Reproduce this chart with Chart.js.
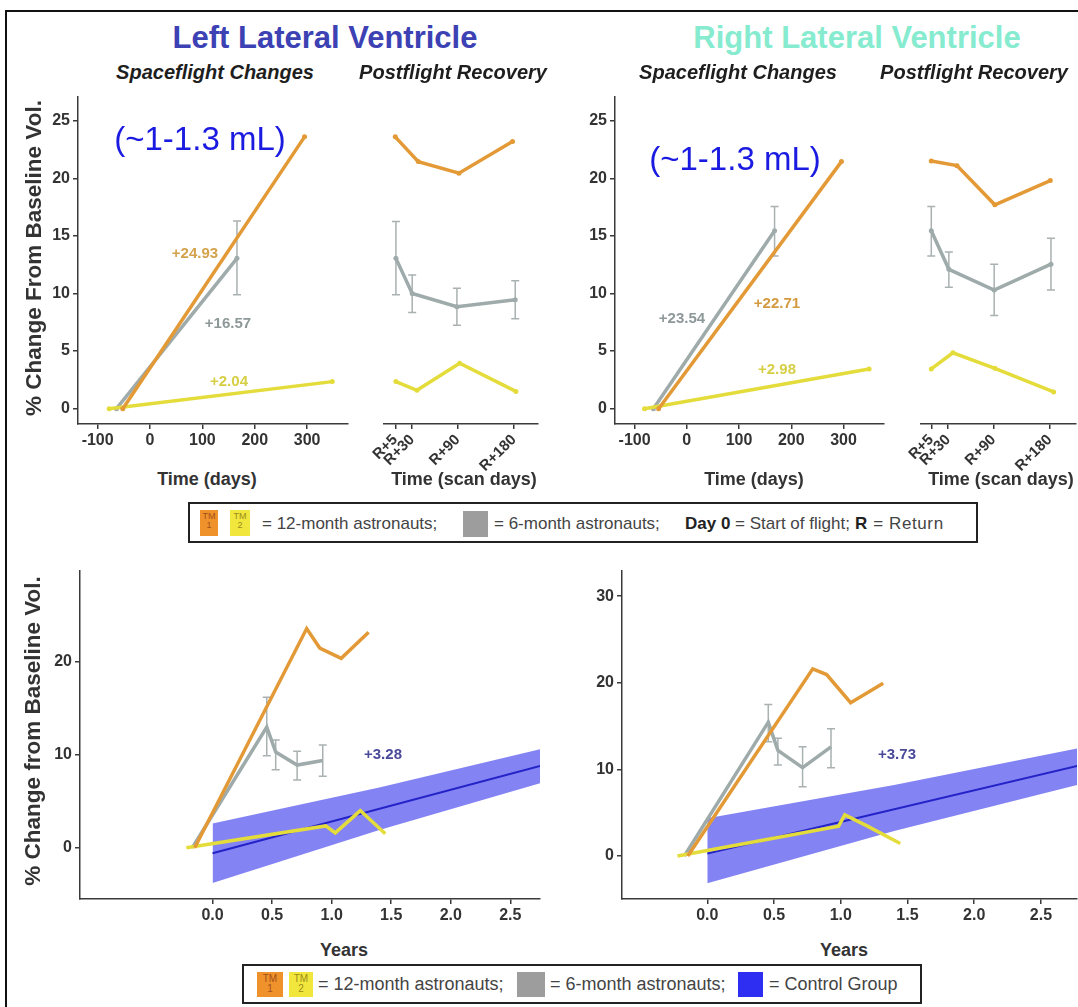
<!DOCTYPE html>
<html>
<head>
<meta charset="utf-8">
<title>Lateral ventricle volume change</title>
<script src="https://cdn.jsdelivr.net/npm/chart.js@4.4.1/dist/chart.umd.min.js"></script>
<style>
  html, body { margin: 0; padding: 0; background: #fff; overflow: hidden; }
  #fig { position: relative; width: 1078px; height: 1007px; overflow: hidden; background: #fff;
         font-family: "Liberation Sans", Arial, sans-serif; color: #333; }
  #frame { position: absolute; left: 5px; top: 10px; width: 1200px; height: 1200px;
           border-left: 2px solid #111; border-top: 2px solid #111; }
  canvas { position: absolute; }
  .t { position: absolute; white-space: nowrap; line-height: 1; transform: translate(-50%, -50%); }
  .title { font-size: 31px; font-weight: bold; }
  .sub { font-size: 20px; font-weight: bold; font-style: italic; color: #1e1e1e; }
  .axt { font-size: 18px; font-weight: bold; color: #333; }
  .yt { font-size: 22.5px; font-weight: bold; color: #333; transform: translate(-50%, -50%) rotate(-90deg); }
  .ann { font-size: 15px; font-weight: bold; }
  .ml { font-size: 33px; color: #1a1ae0; }
  .legend { position: absolute; box-sizing: border-box; border: 2px solid #222; background: #fff; }
  .lg { position: absolute; white-space: nowrap; line-height: 1; transform: translateY(-50%); color: #444; }
  .sw { position: absolute; box-sizing: border-box; text-align: center; line-height: 1; font-size: 9px; padding-top: 2px; }
</style>
</head>
<body>
<div id="fig">
  <div id="frame"></div>

  <canvas id="llvFlight"></canvas>
  <canvas id="llvRec"></canvas>
  <canvas id="rlvFlight"></canvas>
  <canvas id="rlvRec"></canvas>
  <canvas id="llvLong"></canvas>
  <canvas id="rlvLong"></canvas>

  <!-- titles -->
  <div class="t title" style="left:325px; top:37px; color:#3c41b4;">Left Lateral Ventricle</div>
  <div class="t title" style="left:857px; top:37px; color:#86ebcf;">Right Lateral Ventricle</div>
  <div class="t sub" style="left:215px; top:72px;">Spaceflight Changes</div>
  <div class="t sub" style="left:453px; top:72px;">Postflight Recovery</div>
  <div class="t sub" style="left:738px; top:72px;">Spaceflight Changes</div>
  <div class="t sub" style="left:974px; top:72px;">Postflight Recovery</div>

  <!-- axis titles -->
  <div class="t yt" style="left:34px; top:258px;">% Change From Baseline Vol.</div>
  <div class="t yt" style="left:33px; top:731px;">% Change from Baseline Vol.</div>
  <div class="t axt" style="left:207px; top:479px;">Time (days)</div>
  <div class="t axt" style="left:464px; top:479px;">Time (scan days)</div>
  <div class="t axt" style="left:754px; top:479px;">Time (days)</div>
  <div class="t axt" style="left:1001px; top:479px;">Time (scan days)</div>
  <div class="t axt" style="left:344px; top:950px;">Years</div>
  <div class="t axt" style="left:844px; top:950px;">Years</div>

  <!-- annotations -->
  <div class="t ml" style="left:200px; top:138px;">(~1-1.3 mL)</div>
  <div class="t ml" style="left:735px; top:158px;">(~1-1.3 mL)</div>
  <div class="t ann" style="left:195px; top:252px; color:#d4a24c;">+24.93</div>
  <div class="t ann" style="left:228px; top:322px; color:#8e9898;">+16.57</div>
  <div class="t ann" style="left:229px; top:380px; color:#d6cf45;">+2.04</div>
  <div class="t ann" style="left:682px; top:317px; color:#8e9898;">+23.54</div>
  <div class="t ann" style="left:777px; top:302px; color:#d49a40;">+22.71</div>
  <div class="t ann" style="left:777px; top:368px; color:#d6cf45;">+2.98</div>
  <div class="t ann" style="left:383px; top:753px; color:#4a4a9a;">+3.28</div>
  <div class="t ann" style="left:897px; top:753px; color:#4a4a9a;">+3.73</div>

  <!-- legend, top -->
  <div class="legend" style="left:188px; top:502px; width:790px; height:41px;"></div>
  <div class="sw" style="left:200px; top:510px; width:18px; height:26px; background:#f0922b; color:#a3501c;">TM<br>1</div>
  <div class="sw" style="left:230px; top:510px; width:20px; height:26px; background:#f1e63c; color:#9c8c1e;">TM<br>2</div>
  <div class="lg" style="left:262px; top:523px; font-size:17px;">= 12-month astronauts;</div>
  <div class="sw" style="left:463px; top:511px; width:25px; height:26px; background:#9d9d9d;"></div>
  <div class="lg" style="left:494px; top:523px; font-size:17px;">= 6-month astronauts;</div>
  <div class="lg" style="left:685px; top:523px; font-size:17px;"><b style="color:#222;">Day 0</b> = Start of flight;</div>
  <div class="lg" style="left:855px; top:523px; font-size:17px; letter-spacing:0.6px;"><b style="color:#222;">R</b> = Return</div>

  <!-- legend, bottom -->
  <div class="legend" style="left:242px; top:964px; width:680px; height:40px;"></div>
  <div class="sw" style="left:257px; top:972px; width:26px; height:25px; background:#f0922b; color:#a3501c; font-size:10px;">TM<br>1</div>
  <div class="sw" style="left:289px; top:972px; width:24px; height:25px; background:#f1e63c; color:#9c8c1e; font-size:10px;">TM<br>2</div>
  <div class="lg" style="left:318px; top:984px; font-size:18px;">= 12-month astronauts;</div>
  <div class="sw" style="left:517px; top:972px; width:28px; height:25px; background:#9d9d9d;"></div>
  <div class="lg" style="left:550px; top:984px; font-size:18px;">= 6-month astronauts;</div>
  <div class="sw" style="left:738px; top:972px; width:25px; height:25px; background:#2e2ef2;"></div>
  <div class="lg" style="left:769px; top:984px; font-size:18px;">= Control Group</div>
</div>

<script>
// ---- values ----
const dayTicks = [-100, 0, 100, 200, 300];
const scanTicks = [5, 30, 97, 180];
const scanLabels = ['R+5', 'R+30', 'R+90', 'R+180'];
const pctTicksTop = [0, 5, 10, 15, 20, 25];
const yearTicks = [0, 0.5, 1, 1.5, 2, 2.5];
const pctTicksLLV = [0, 10, 20];
const pctTicksRLV = [0, 10, 20, 30];

// Left lateral ventricle - spaceflight (days from launch)
const llvFlightDaysTM1 = [-52, 295];
const llvFlightTM1 = [0, 23.6];
const llvFlightDaysTM2 = [-78, 348];
const llvFlightTM2 = [0, 2.35];
const llvFlightDays6M = [-64, 166];
const llvFlight6M = [0, 13.05];
const llvFlight6MHi = [null, 16.3];
const llvFlight6MLo = [null, 9.9];

// Left lateral ventricle - postflight recovery (scan days)
const llvRecDaysTM1 = [5, 39, 99, 178];
const llvRecTM1 = [23.6, 21.45, 20.45, 23.2];
const llvRecDaysTM2 = [6, 37, 100, 183];
const llvRecTM2 = [2.35, 1.6, 3.95, 1.5];
const llvRecDays6M = [6, 30, 96, 182];
const llvRec6M = [13.05, 10.0, 8.85, 9.45];
const llvRec6MHi = [16.25, 11.6, 10.45, 11.1];
const llvRec6MLo = [9.9, 8.35, 7.25, 7.8];

// Right lateral ventricle - spaceflight
const rlvFlightDaysTM1 = [-54, 296];
const rlvFlightTM1 = [0, 21.45];
const rlvFlightDaysTM2 = [-81, 349];
const rlvFlightTM2 = [0, 3.45];
const rlvFlightDays6M = [-64, 168];
const rlvFlight6M = [0, 15.45];
const rlvFlight6MHi = [null, 17.55];
const rlvFlight6MLo = [null, 13.25];

// Right lateral ventricle - postflight recovery
const rlvRecDaysTM1 = [5, 43, 99, 181];
const rlvRecTM1 = [21.5, 21.1, 17.7, 19.8];
const rlvRecDaysTM2 = [5, 37, 99, 186];
const rlvRecTM2 = [3.45, 4.85, 3.5, 1.45];
const rlvRecDays6M = [5, 31, 98, 182];
const rlvRec6M = [15.45, 12.1, 10.3, 12.55];
const rlvRec6MHi = [17.55, 13.6, 12.55, 14.8];
const rlvRec6MLo = [13.25, 10.55, 8.1, 10.3];

// Long term, in years, with control group fit
const llvYrsTM1 = [-0.15, 0.79, 0.9, 1.08, 1.31];
const llvLongTM1 = [0, 23.6, 21.5, 20.4, 23.2];
const llvYrsTM2 = [-0.22, 0.95, 1.03, 1.24, 1.45];
const llvLongTM2 = [0, 2.35, 1.6, 4.0, 1.5];
const llvYrs6M = [-0.17, 0.455, 0.53, 0.71, 0.925];
const llvLong6M = [0, 13.0, 10.3, 8.9, 9.4];
const llvLong6MHi = [null, 16.2, 11.6, 10.4, 11.05];
const llvLong6MLo = [null, 9.9, 8.4, 7.3, 7.7];
const llvCtrlYrs = [0, 2.75];
const llvCtrl = [-0.6, 8.8];
const llvBandYrs = [0, 1.4, 2.75];
const llvBandHi = [2.6, 6.5, 10.6];
const llvBandLo = [-3.8, 1.9, 6.95];

const rlvYrsTM1 = [-0.146, 0.79, 0.894, 1.074, 1.318];
const rlvLongTM1 = [0, 21.6, 20.95, 17.7, 19.95];
const rlvYrsTM2 = [-0.223, 0.984, 1.03, 1.2, 1.446];
const rlvLongTM2 = [0, 3.45, 4.75, 3.45, 1.45];
const rlvYrs6M = [-0.172, 0.457, 0.529, 0.714, 0.927];
const rlvLong6M = [0, 15.45, 12.2, 10.2, 12.6];
const rlvLong6MHi = [null, 17.5, 13.6, 12.6, 14.7];
const rlvLong6MLo = [null, 13.2, 10.5, 8.0, 10.2];
const rlvCtrlYrs = [0, 2.8];
const rlvCtrl = [0.3, 10.5];
const rlvBandYrs = [0, 1.4, 2.8];
const rlvBandHi = [4.35, 8.2, 12.5];
const rlvBandLo = [-3.15, 2.9, 8.3];

// ---- styling ----
const ORANGE = '#e39a36';
const YELLOW = '#e4dc3a';
const GRAY = '#9eabaa';
const ERR = '#a9b1b1';
const CTRL = '#2323c8';
const BAND = 'rgba(100, 100, 240, 0.8)';
const AXIS = '#3a3a3a';

Chart.defaults.font.family = '"Liberation Sans", Arial, sans-serif';

// gray error bars, drawn through the chart's own scales
const errorBars = {
  id: 'errorBars',
  beforeDatasetsDraw(chart) {
    const { ctx, scales: { x, y } } = chart;
    chart.data.datasets.forEach(ds => {
      if (!ds.errHi) return;
      ctx.save();
      ctx.strokeStyle = ERR;
      ctx.lineWidth = 1.5;
      ds.data.forEach((p, j) => {
        const hi = ds.errHi[j], lo = ds.errLo[j];
        if (hi == null) return;
        const px = x.getPixelForValue(p.x);
        const top = y.getPixelForValue(hi), bot = y.getPixelForValue(lo);
        ctx.beginPath();
        ctx.moveTo(px, top); ctx.lineTo(px, bot);
        ctx.moveTo(px - 4, top); ctx.lineTo(px + 4, top);
        ctx.moveTo(px - 4, bot); ctx.lineTo(px + 4, bot);
        ctx.stroke();
      });
      ctx.restore();
    });
  }
};

function pts(xs, ys) {
  return xs.map((x, i) => ({ x, y: ys[i] }));
}

function series(xs, ys, color, extra) {
  return Object.assign({
    data: pts(xs, ys),
    borderColor: color,
    backgroundColor: color,
    borderWidth: 3.5,
    pointRadius: 2.5,
    pointBorderWidth: 0,
    fill: false,
    tension: 0
  }, extra || {});
}

function band(xs, hi, lo) {
  return [
    { data: pts(xs, hi), borderWidth: 0, pointRadius: 0, backgroundColor: BAND, fill: '+1' },
    { data: pts(xs, lo), borderWidth: 0, pointRadius: 0, backgroundColor: BAND, fill: false }
  ];
}

// area = [left, top, right, bottom] of the plotting panel on the page
function makeChart(id, area, o) {
  const padT = 10, padR = 14, padL = o.yW ? 0 : 30;
  const cv = document.getElementById(id);
  cv.width = o.yW + padL + (area[2] - area[0]) + padR;
  cv.height = padT + (area[3] - area[1]) + o.xH;
  cv.style.left = (area[0] - o.yW - padL) + 'px';
  cv.style.top = (area[1] - padT) + 'px';

  const tickFont = { size: 16, weight: 'bold' };
  const grid = { drawOnChartArea: false, drawTicks: true, tickLength: 5, color: AXIS, lineWidth: 1.5 };
  const border = { display: true, color: AXIS, width: 1.5 };

  return new Chart(cv, {
    type: 'line',
    data: { datasets: o.datasets },
    options: {
      responsive: false,
      animation: false,
      events: [],
      layout: { padding: { top: padT, right: padR, left: padL, bottom: 0 } },
      plugins: { legend: { display: false }, tooltip: { enabled: false } },
      scales: {
        x: {
          type: 'linear', min: o.xMin, max: o.xMax,
          afterBuildTicks: a => { a.ticks = o.xTicks.map(v => ({ value: v })); },
          afterFit: a => { a.height = o.xH; a.paddingLeft = 0; a.paddingRight = 0; },
          grid, border,
          ticks: {
            autoSkip: false, minRotation: o.rot || 0, maxRotation: o.rot || 0,
            padding: 2, color: '#333', font: { size: o.rot ? 15 : 16, weight: 'bold' },
            callback: o.xLabel
          }
        },
        y: {
          type: 'linear', display: !!o.yW, min: o.yMin, max: o.yMax,
          afterBuildTicks: a => { a.ticks = o.yTicks.map(v => ({ value: v })); },
          afterFit: a => { a.width = o.yW; a.paddingTop = 0; a.paddingBottom = 0; },
          grid, border,
          ticks: { padding: 3, color: '#333', font: tickFont }
        }
      }
    },
    plugins: [errorBars]
  });
}

const dayLabel = v => String(v);
const scanLabel = (v, i) => scanLabels[i];
const yearLabel = v => v.toFixed(1);

const topY = { yMin: -1.33, yMax: 27.06, yTicks: pctTicksTop };

makeChart('llvFlight', [78, 97, 348, 424], Object.assign({
  yW: 50, xH: 45, xMin: -137.5, xMax: 378, xTicks: dayTicks, xLabel: dayLabel,
  datasets: [
    series(llvFlightDaysTM1, llvFlightTM1, ORANGE),
    series(llvFlightDaysTM2, llvFlightTM2, YELLOW),
    series(llvFlightDays6M, llvFlight6M, GRAY, { errHi: llvFlight6MHi, errLo: llvFlight6MLo })
  ]
}, topY));

makeChart('llvRec', [384, 97, 538, 424], Object.assign({
  yW: 0, xH: 50, xMin: -11.6, xMax: 215.6, xTicks: scanTicks, xLabel: scanLabel, rot: 45,
  datasets: [
    series(llvRecDaysTM1, llvRecTM1, ORANGE),
    series(llvRecDaysTM2, llvRecTM2, YELLOW),
    series(llvRecDays6M, llvRec6M, GRAY, { errHi: llvRec6MHi, errLo: llvRec6MLo })
  ]
}, topY));

makeChart('rlvFlight', [615, 97, 884, 424], Object.assign({
  yW: 50, xH: 45, xMin: -137.5, xMax: 377.5, xTicks: dayTicks, xLabel: dayLabel,
  datasets: [
    series(rlvFlightDaysTM1, rlvFlightTM1, ORANGE),
    series(rlvFlightDaysTM2, rlvFlightTM2, YELLOW),
    series(rlvFlightDays6M, rlvFlight6M, GRAY, { errHi: rlvFlight6MHi, errLo: rlvFlight6MLo })
  ]
}, topY));

makeChart('rlvRec', [921, 97, 1076, 424], Object.assign({
  yW: 0, xH: 50, xMin: -10.2, xMax: 219, xTicks: scanTicks, xLabel: scanLabel, rot: 45,
  datasets: [
    series(rlvRecDaysTM1, rlvRecTM1, ORANGE),
    series(rlvRecDaysTM2, rlvRecTM2, YELLOW),
    series(rlvRecDays6M, rlvRec6M, GRAY, { errHi: rlvRec6MHi, errLo: rlvRec6MLo })
  ]
}, topY));

makeChart('llvLong', [80, 571, 540, 899], {
  yW: 50, xH: 40, xMin: -1.113, xMax: 2.749, xTicks: yearTicks, xLabel: yearLabel,
  yMin: -5.52, yMax: 29.8, yTicks: pctTicksLLV,
  datasets: [
    series(llvYrsTM1, llvLongTM1, ORANGE, { pointRadius: 0 }),
    series(llvYrsTM2, llvLongTM2, YELLOW, { pointRadius: 0 }),
    series(llvYrs6M, llvLong6M, GRAY, { pointRadius: 0, errHi: llvLong6MHi, errLo: llvLong6MLo }),
    series(llvCtrlYrs, llvCtrl, CTRL, { borderWidth: 2, pointRadius: 0 })
  ].concat(band(llvBandYrs, llvBandHi, llvBandLo))
});

makeChart('rlvLong', [622, 571, 1077, 899], {
  yW: 50, xH: 40, xMin: -0.639, xMax: 2.77, xTicks: yearTicks, xLabel: yearLabel,
  yMin: -4.96, yMax: 32.9, yTicks: pctTicksRLV,
  datasets: [
    series(rlvYrsTM1, rlvLongTM1, ORANGE, { pointRadius: 0 }),
    series(rlvYrsTM2, rlvLongTM2, YELLOW, { pointRadius: 0 }),
    series(rlvYrs6M, rlvLong6M, GRAY, { pointRadius: 0, errHi: rlvLong6MHi, errLo: rlvLong6MLo }),
    series(rlvCtrlYrs, rlvCtrl, CTRL, { borderWidth: 2, pointRadius: 0 })
  ].concat(band(rlvBandYrs, rlvBandHi, rlvBandLo))
});
</script>
</body>
</html>
